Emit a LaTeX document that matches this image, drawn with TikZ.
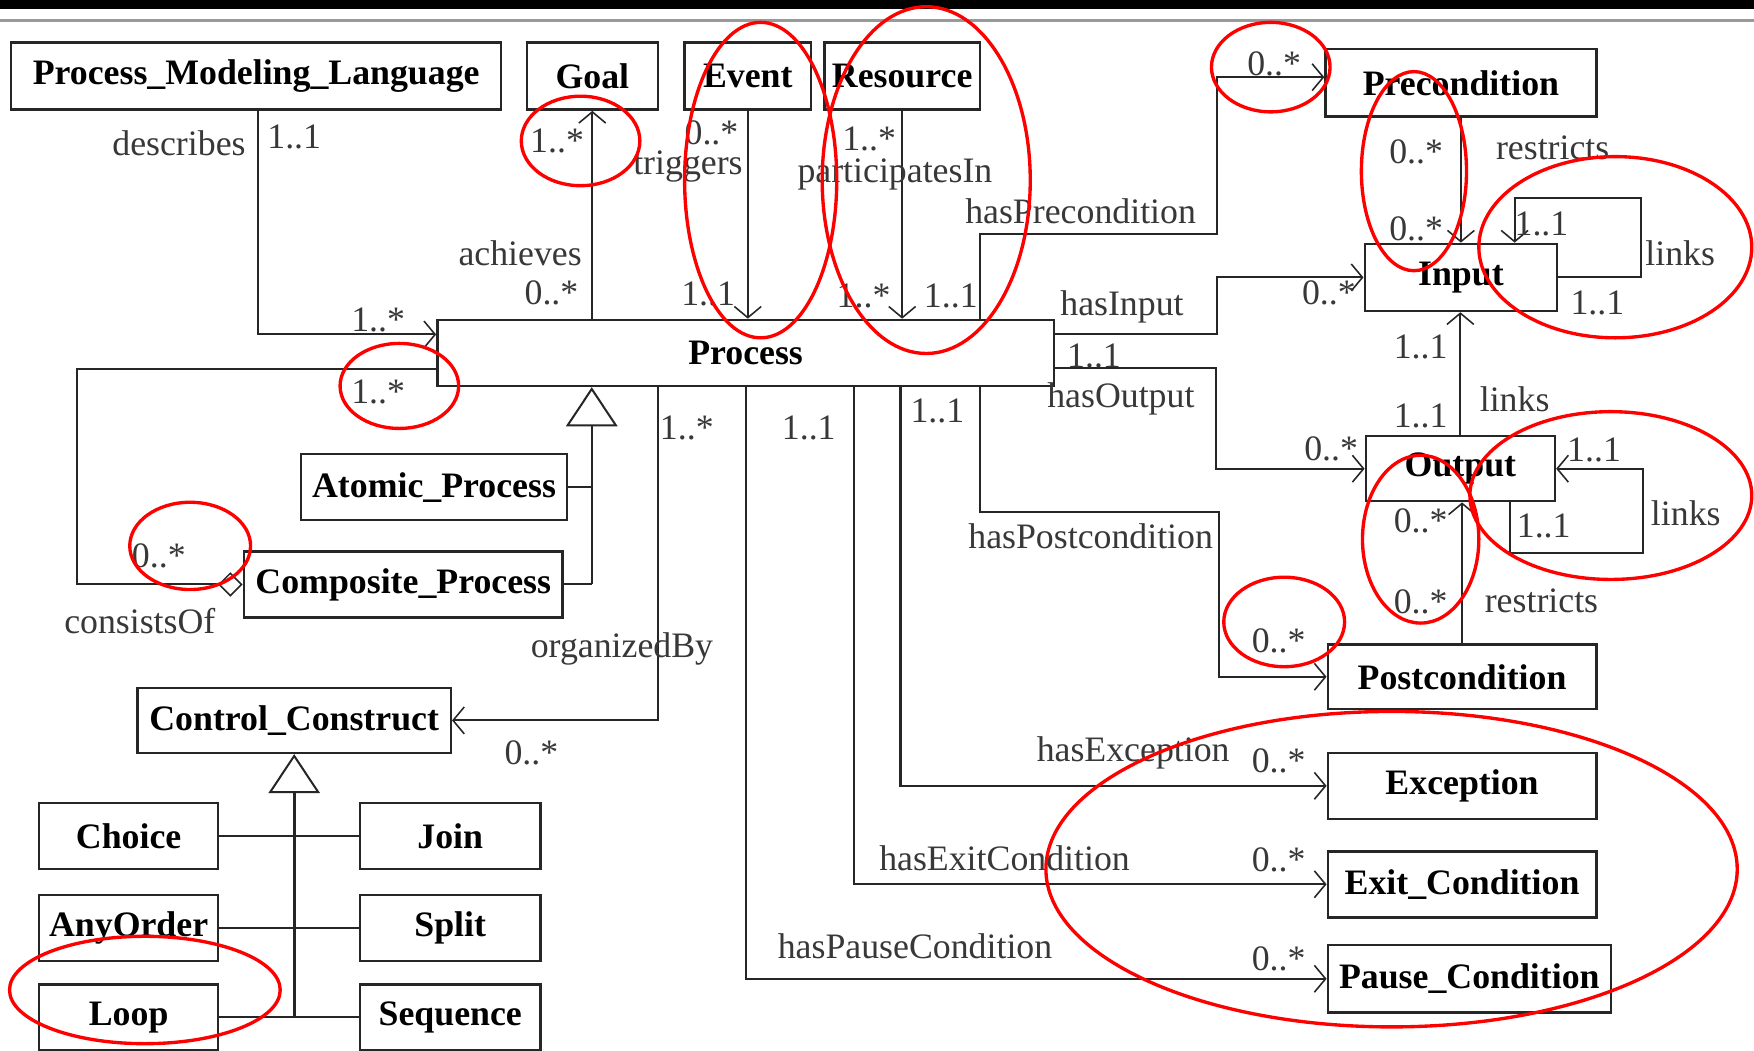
\documentclass[tikz,border=0pt]{standalone}
\usepackage{fontspec}
\setmainfont{Liberation Serif}
\usetikzlibrary{arrows.meta,calc}
\begin{document}
\begin{tikzpicture}[x=1pt,y=-1pt,
  cls/.style={draw=black!85, line width=2.2pt, fill=white, inner sep=0pt,
    font=\bfseries\fontsize{32}{36}\selectfont},
  lbl/.style={inner sep=0pt, text=black!78, font=\fontsize{32}{36}\selectfont},
  conn/.style={line width=1.8pt, draw=black!85},
  nav/.style={conn, -{Straight Barb[length=10pt,width=24pt,line width=1.4pt]}},
  gen/.style={conn, -{Triangle[open,length=35pt,width=46pt,line width=1.8pt]}},
  agg/.style={conn, -{Diamond[open,length=22pt,width=22pt,line width=1.4pt]}},
  redring/.style={draw=red, line width=3pt}
]
\useasboundingbox (0,0) rectangle (1568,939);
\fill[white] (0,0) rectangle (1568,939);

% slide header strip
\fill[black] (0,0) rectangle (1568,8);
\draw[black!40, line width=2.5pt] (0,18) -- (1568,18);

% classes
\node[cls, minimum width=438, minimum height=60] (pml) at (229,68) {Process\_Modeling\_Language};
\node[cls, minimum width=117, minimum height=60] (goal) at (529.5,68) {Goal};
\node[cls, minimum width=113, minimum height=60] (event) at (668.5,68) {Event};
\node[cls, minimum width=139, minimum height=60] (resource) at (806.5,68) {Resource};
\node[cls, minimum width=242, minimum height=60] (precond) at (1306,74) {Precondition};
\node[cls, minimum width=172, minimum height=60] (input) at (1306,248) {Input};
\node[cls, minimum width=551, minimum height=59] (proc) at (666.5,315.5) {Process};
\node[cls, minimum width=238, minimum height=59] (atomic) at (388,435.5) {Atomic\_Process};
\node[cls, minimum width=285, minimum height=59] (comp) at (360.5,522.5) {Composite\_Process};
\node[cls, minimum width=169, minimum height=58] (output) at (1305.5,419) {Output};
\node[cls, minimum width=240, minimum height=58] (postcond) at (1307,605) {Postcondition};
\node[cls, minimum width=280, minimum height=58] (cc) at (263,644) {Control\_Construct};
\node[cls, minimum width=160, minimum height=59] (choice) at (115,747.5) {Choice};
\node[cls, minimum width=161, minimum height=59] (join) at (402.5,747.5) {Join};
\node[cls, minimum width=160, minimum height=59] (anyorder) at (115,829.5) {AnyOrder};
\node[cls, minimum width=161, minimum height=59] (split) at (402.5,829.5) {Split};
\node[cls, minimum width=160, minimum height=59] (loop) at (115,909.5) {Loop};
\node[cls, minimum width=161, minimum height=59] (sequence) at (402.5,909.5) {Sequence};
\node[cls, minimum width=240, minimum height=59] (exception) at (1307,702.5) {Exception};
\node[cls, minimum width=240, minimum height=59] (exitc) at (1307,790.5) {Exit\_Condition};
\node[cls, minimum width=253, minimum height=60] (pausec) at (1313.5,875) {Pause\_Condition};

% bend points of the associations
\coordinate (cbend) at (69,522.5);
\coordinate (hpbend) at (1088,209);
\coordinate (hibend) at (1088,248);
\coordinate (hobend) at (1087,419);
\coordinate (ilbend) at (1467,177);
\coordinate (olbend) at (1469,494);
\coordinate (hpcbend) at (1090,458);
\coordinate (gproc) at (529,522.5);
\coordinate (gcc) at (263,909.5);

% associations
\draw[nav] ([xshift=2pt]pml.south) |- ([yshift=16.5pt]proc.west);
\draw[agg] ([yshift=-14.5pt]proc.west) -| (cbend) -- (comp.west);
\draw[nav] (proc.north -| goal.south) -- (goal.south);
\draw[nav] (event.south) -- (event.south |- proc.north);
\draw[nav] (resource.south) -- (resource.south |- proc.north);
\draw[nav] ([xshift=209.5pt]proc.north) |- (hpbend) |- ([yshift=5pt]precond.west);
\draw[nav] ([yshift=16.5pt]proc.east) -| (hibend) -- (input.west);
\draw[nav] ([yshift=-13.5pt]proc.east) -| (hobend) -- (output.west);
\draw[nav] (precond.south) -- (precond.south |- input.north);
\draw[nav] (input.east) -| (ilbend) -| ([xshift=48pt]input.north);
\draw[nav] (output.north) -- (output.north |- input.south);
\draw[nav] ([xshift=44.5pt]output.south) |- (olbend) |- (output.east);
\draw[nav] (postcond.north) -- (postcond.north |- output.south);
\draw[nav] ([xshift=209.5pt]proc.south) |- (hpcbend) |- (postcond.west);
\draw[nav] ([xshift=138.5pt]proc.south) |- (exception.west);
\draw[nav] ([xshift=96.5pt]proc.south) |- (exitc.west);
\draw[nav] ([xshift=0.5pt]proc.south) |- (pausec.west);
\draw[nav] ([xshift=-78.5pt]proc.south) |- (cc.east);

% generalizations
\draw[gen] (gproc) -- (gproc |- proc.south);
\draw[conn] (comp.east) -- (gproc);
\draw[conn] (atomic.east) -- (atomic.east -| gproc);
\draw[gen, line width=2.4pt] (gcc) -- (cc.south);
\draw[conn] (choice.east) -- (join.west);
\draw[conn] (anyorder.east) -- (split.west);
\draw[conn] (loop.east) -- (sequence.west);

% role names and multiplicities
\node[lbl] (tDescribes) at (160,128) {describes};
\node[lbl] (mPml) at (263,122) {1..1};
\node[lbl] (mDescr) at (338,286) {1..*};
\node[lbl] (mCons1) at (338,350) {1..*};
\node[lbl] (mCons2) at (142,497) {0..*};
\node[lbl] (tConsists) at (125,555) {consistsOf};
\node[lbl] (tAchieves) at (465,226) {achieves};
\node[lbl] (mAch1) at (493,262) {0..*};
\node[lbl] (mAch2) at (498,126) {1..*};
\node[lbl] (mTrig1) at (636,119) {0..*};
\node[lbl] (tTriggers) at (615,149) {triggers};
\node[lbl] (mTrig2) at (633,263) {1..1};
\node[lbl] (mPart1) at (777,124) {1..*};
\node[lbl] (tPart) at (800,156) {participatesIn};
\node[lbl] (mPart2) at (772,265) {1..*};
\node[lbl] (mPre1) at (850,265) {1..1};
\node[lbl] (tHasPre) at (966,189) {hasPrecondition};
\node[lbl] (mPre2) at (1139,57) {0..*};
\node[lbl] (tHasIn) at (1003,274) {hasInput};
\node[lbl] (mIn2) at (1188,262) {0..*};
\node[lbl] (mIn1) at (978,318) {1..1};
\node[lbl] (tHasOut) at (1002,357) {hasOutput};
\node[lbl] (mOut2) at (1190,401) {0..*};
\node[lbl] (mRes1) at (1266,136) {0..*};
\node[lbl] (tRestr1) at (1388,132) {restricts};
\node[lbl] (mRes2) at (1266,205) {0..*};
\node[lbl] (mIL1) at (1378,200) {1..1};
\node[lbl] (tLinks1) at (1502,226) {links};
\node[lbl] (mIL2) at (1428,271) {1..1};
\node[lbl] (mIO1) at (1270,310) {1..1};
\node[lbl] (mIO2) at (1270,372) {1..1};
\node[lbl] (tLinks2) at (1354,357) {links};
\node[lbl] (mOL1) at (1425,402) {1..1};
\node[lbl] (mOL2) at (1380,470) {1..1};
\node[lbl] (tLinks3) at (1507,459) {links};
\node[lbl] (mRes3) at (1270,466) {0..*};
\node[lbl] (mRes4) at (1270,538) {0..*};
\node[lbl] (tRestr2) at (1378,537) {restricts};
\node[lbl] (mOrg1) at (614,383) {1..*};
\node[lbl] (mPause1) at (723,383) {1..1};
\node[lbl] (mExc1) at (838,367) {1..1};
\node[lbl] (tHasPost) at (975,479) {hasPostcondition};
\node[lbl] (mPost2) at (1143,573) {0..*};
\node[lbl] (tOrg) at (556,580) {organizedBy};
\node[lbl] (mOrg2) at (475,673) {0..*};
\node[lbl] (tHasExc) at (1013,673) {hasException};
\node[lbl] (mExc2) at (1143,680) {0..*};
\node[lbl] (tHasExit) at (898,767) {hasExitCondition};
\node[lbl] (mExit2) at (1143,769) {0..*};
\node[lbl] (tHasPause) at (818,846) {hasPauseCondition};
\node[lbl] (mPause2) at (1143,857) {0..*};

% red highlight rings
\draw[redring] (519,126) ellipse [x radius=53, y radius=40];
\draw[redring] (680,161) ellipse [x radius=68, y radius=141];
\draw[redring] (828,161) ellipse [x radius=93, y radius=155];
\draw[redring] (1136,60) ellipse [x radius=53, y radius=40];
\draw[redring] (1264,153) ellipse [x radius=47, y radius=89];
\draw[redring] (1444,221) ellipse [x radius=122, y radius=81];
\draw[redring] (357,345) ellipse [x radius=53, y radius=38];
\draw[redring] (170,488) ellipse [x radius=54, y radius=39];
\draw[redring] (1440,443) ellipse [x radius=126, y radius=75];
\draw[redring] (1270,482) ellipse [x radius=52, y radius=75];
\draw[redring] (1148,556) ellipse [x radius=54, y radius=40];
\draw[redring] (1244,777) ellipse [x radius=309, y radius=141];
\draw[redring] (129.5,885) ellipse [x radius=121, y radius=48];
\end{tikzpicture}
\end{document}
